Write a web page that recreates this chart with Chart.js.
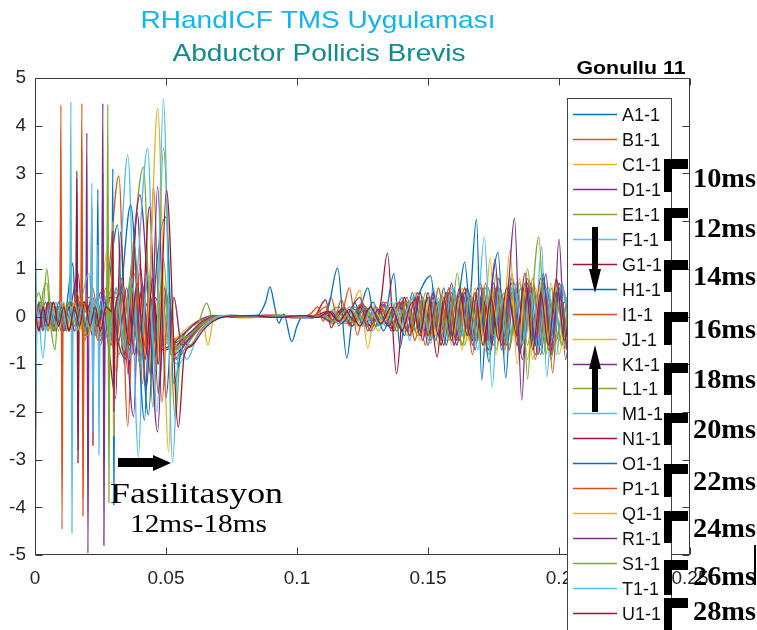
<!DOCTYPE html>
<html><head><meta charset="utf-8">
<script src="https://cdn.jsdelivr.net/npm/chart.js@4.4.1/dist/chart.umd.min.js"></script>
<style>html,body{margin:0;padding:0;background:#fff;}canvas{display:block}</style>
</head><body>
<canvas id="c" width="757" height="630"></canvas>
<script>
// ---------- DATA (time in ms, value) ----------
const labels = ['A1-1','B1-1','C1-1','D1-1','E1-1','F1-1','G1-1','H1-1','I1-1','J1-1','K1-1','L1-1','M1-1','N1-1','O1-1','P1-1','Q1-1','R1-1','S1-1','T1-1','U1-1'];
const xTicks = [0, 0.05, 0.1, 0.15, 0.2, 0.25];
const yTicks = [-5,-4,-3,-2,-1,0,1,2,3,4,5];
const intervalLabels = ['10ms','12ms','14ms','16ms','18ms','20ms','22ms','24ms','26ms','28ms'];

const A1 = [0,1.6, 0.6,0.1, 2,-0.2, 4,0.3, 6,-0.1, 8,0.2, 10,-0.3, 12,0.2, 14.4,1.12, 15.6,0.1, 16.0,2.9, 16.4,-2.8, 16.8,0.2, 19,-0.3, 22,0.4, 25,-0.5, 28,0.6, 31.5,1.92, 34,-1.0, 36.5,0.8, 39,-0.6, 42,0.3, 46,-0.5, 50,-0.4, 54,-0.6, 58,-0.3, 63,-0.1, 68,-0.02, 75,0.03, 85,-0.02, 95,0.02, 105,-0.03, 112,0.05, 118,-0.1, 124,0.15, 127,0.6, 130,-0.2, 134,0.1, 137,0.9, 139.3,-0.66, 142,0.2, 145,-0.3, 148,0.4, 151,-0.5, 154,0.3, 157,-0.6, 160,0.5, 163,-0.4, 166,0.3, 168.5,2.04, 170.5,-1.33, 173,0.6, 175.5,-0.5, 178,0.4, 181,-0.7, 184,0.5, 187,-0.4, 190,0.6, 193,-0.8, 196,0.4, 199,-0.5, 202,0.3, 205,-0.2];
const B1 = [0,0.3, 1,-0.2, 3,0.2, 5,-0.3, 7,0.1, 9.5,0.1, 9.9,4.43, 10.3,-4.46, 10.7,0.3, 13,-0.3, 16,0.4, 19,-0.5, 22,0.6, 25,-0.4, 28,0.8, 32,2.95, 35.4,-2.3, 38,0.9, 41,-0.8, 44,0.4, 48,-0.6, 52,-0.5, 56,-0.4, 60,-0.2, 65,-0.05, 72,0.02, 80,-0.02, 90,0.03, 100,-0.02, 108,0.03, 114,-0.15, 118,0.2, 121,-0.1, 125,0.3, 128,-0.3, 132,0.2, 136,-0.2, 140,0.4, 143,-0.4, 146,0.3, 149,-0.6, 152,0.5, 155,-0.3, 158,0.6, 161,-0.5, 164,0.4, 167,-0.8, 170,0.7, 173,-0.4, 176,0.5, 179,-0.6, 182,0.9, 185,-0.7, 188,0.5, 191,-0.9, 194,0.6, 197,-0.5, 200,0.7, 203,-0.4];
const C1 = [0,-0.2, 1.5,0.2, 3,-0.3, 5,0.2, 7,-0.2, 9,0.3, 11,-0.2, 13,0.2, 15,-0.3, 17.5,0.2, 17.9,3.5, 18.3,-3.8, 18.7,0.1, 21,0.4, 24,-0.3, 27.4,1.35, 31,-1.16, 34,0.6, 37,-0.7, 40,0.5, 43,-0.8, 47,0.3, 51,-0.6, 55,-0.4, 59,-0.2, 64,-0.05, 70,0.02, 80,-0.03, 92,0.02, 104,-0.02, 112,0.05, 116,-0.1, 120,0.2, 123,-0.2, 127,0.15, 131,-0.3, 135,0.2, 139,-0.2, 142,0.3, 145,-0.5, 148,0.4, 151,-0.3, 154,0.6, 157,-0.4, 160,0.3, 163,-0.7, 166,0.5, 169,-0.3, 171,-0.6, 173.7,1.23, 176,-0.8, 179,0.4, 182,-0.5, 185,0.8, 188,-0.9, 191,0.6, 194,-0.4, 197,0.7, 200,-0.8, 203,0.4];
const D1 = [0,-4.6, 0.6,-0.3, 2,0.2, 4,-0.2, 6,0.3, 8,-0.1, 10,0.2, 12,-0.3, 14,0.3, 16.4,0.9, 18,0.1, 19.4,0.1, 19.8,3.85, 20.2,-4.96, 20.6,0.2, 23,-0.4, 26,0.5, 29,-0.6, 33,0.8, 37.6,-2.1, 40,1.1, 43,-0.6, 46,0.4, 50,-0.7, 54,-0.5, 58,-0.3, 62,-0.1, 68,0.02, 78,-0.02, 88,0.03, 98,-0.02, 108,0.02, 113,-0.1, 117,0.15, 121,-0.2, 125,0.25, 129,-0.15, 133,0.3, 137,-0.3, 141,0.4, 144,-0.3, 147,0.5, 150,-0.6, 153,0.4, 156,-0.3, 159,0.7, 162,-0.5, 165,0.4, 168,-0.7, 171,0.6, 174,-0.5, 177,0.8, 180,-0.6, 183,0.5, 186,-0.9, 189,0.7, 192,-0.6, 195,0.9, 197.5,-0.8, 200,1.62, 202.5,-0.9, 205,0.3];
const E1 = [0,0.4, 1.5,-0.3, 3,0.5, 4.5,0.7, 6,-0.2, 7.6,-0.7, 9,0.2, 11,-0.3, 13.3,0.1, 13.7,2.0, 14.1,-1.5, 14.5,0.2, 17,0.4, 20,-0.4, 23,0.3, 26,-0.5, 29,0.6, 32,-0.8, 36,0.7, 41.4,3.13, 45,-1.9, 48,0.6, 51,-0.5, 54,-0.7, 58,-0.4, 62,-0.2, 65.5,0.28, 68,-0.05, 74,0.02, 84,-0.02, 94,0.03, 104,-0.02, 111,0.04, 116,0.2, 119,-0.15, 123,0.1, 127,-0.2, 131,0.15, 135,-0.2, 139,0.3, 143,-0.3, 146,0.5, 149,-0.4, 152,0.3, 155,-0.6, 158,0.5, 161,-0.3, 164,0.6, 167,-0.5, 170,0.4, 173,-0.8, 176,0.9, 179,-0.5, 182,0.4, 185,-0.7, 188,1.0, 191,-0.6, 194,0.5, 197,-0.9, 200,0.6, 203,-0.5];
const F1 = [0,2.3, 0.6,0.1, 2,-0.3, 4,0.2, 6,-0.2, 8,0.3, 10,-0.2, 12,0.2, 13.3,0.1, 13.7,4.5, 14.1,-4.54, 14.5,0.2, 17,0.3, 20.5,0.9, 23,-0.4, 26,0.3, 29,-0.5, 32,0.7, 35.4,3.39, 39.5,-2.94, 42,0.8, 45,-0.6, 48,0.3, 52,-0.8, 56,-0.6, 60,-0.3, 64,-0.1, 70,0.02, 80,-0.02, 90,0.02, 100,-0.03, 108,0.02, 113,-0.1, 117,0.15, 121,-0.2, 125,0.2, 129,-0.3, 133,0.25, 137,-0.2, 140,0.4, 143,-0.5, 146,0.3, 149,-0.4, 152,0.6, 155,-0.5, 158,0.4, 161,-0.6, 164,0.5, 167,-0.4, 170,0.7, 173,-0.6, 176,0.5, 179,-0.8, 182,0.6, 185,-0.5, 188,0.7, 190.5,-0.6, 193.4,1.46, 195.3,-1.26, 198,0.5, 201,-0.6, 204,0.4];
const G1 = [0,-0.3, 1.5,0.2, 3,-0.2, 5,0.3, 7,-0.3, 9,0.2, 11,-0.2, 13,0.3, 15.6,0.1, 16.0,3.05, 16.4,-3.07, 16.8,0.1, 19,0.3, 22,-0.4, 25,0.5, 28,-0.6, 30.8,-1.71, 32.6,1.77, 35.5,-1.2, 39,2.17, 42.5,-1.5, 45,0.5, 48,-0.7, 52,-0.6, 56,-0.5, 59,-0.64, 63,-0.3, 67,-0.1, 72,0.0, 80,0.02, 90,-0.02, 100,0.02, 106,-0.03, 111,0.35, 113,-0.24, 116,0.1, 120,-0.15, 124,0.2, 128,-0.2, 132,0.15, 136,-0.25, 140,0.3, 143,-0.4, 146,0.5, 149,-0.3, 152,0.4, 155,-0.6, 158,0.5, 161,-0.4, 164,0.6, 167,-0.5, 170,0.4, 173,-0.7, 176,0.6, 179,-0.4, 182,0.7, 185,-0.8, 188,0.5, 191,-0.6, 194,0.8, 197,-0.7, 200,0.5, 203,-0.6];
const H1 = [0,-0.2, 1.5,0.3, 3,-0.2, 5,0.2, 7,-0.3, 9,0.3, 11,-0.2, 13,0.2, 15,-0.2, 17,0.3, 19,-0.3, 21,0.2, 23.6,0.1, 24.0,2.67, 24.4,-1.8, 24.8,0.2, 27,0.4, 30,-0.5, 33,0.6, 36.5,2.34, 41.8,-2.17, 44,0.7, 47,-0.5, 50,0.3, 53,-0.9, 57,-0.6, 61,-0.3, 65,-0.1, 70,0.0, 78,0.02, 85,0.03, 88,0.3, 89.7,0.62, 91.5,0.2, 93,-0.14, 95,0.05, 98,-0.53, 100,-0.2, 102,0.0, 106,0.02, 110,-0.03, 114,0.1, 118,-0.1, 122,0.15, 126,-0.2, 130,0.2, 134,-0.15, 138,0.3, 142,-0.3, 146,0.4, 151,0.85, 154,-0.4, 157,0.5, 160,-0.6, 163,0.4, 166,-0.5, 169,0.6, 172,-0.4, 174,0.5, 176.7,1.35, 179.7,-1.29, 182,0.6, 185,-0.5, 188,0.7, 191,-0.8, 194,0.6, 197,-0.4, 200,0.7, 203,-0.6];
const I1 = [0,0.2, 1.5,-0.3, 3,0.3, 5,-0.2, 7,0.2, 9.5,0.0, 9.9,2.5, 10.3,-2.0, 10.7,0.2, 13,-0.3, 16,0.5, 19,-0.4, 22,0.3, 25,-0.6, 28,0.4, 31,-0.5, 34,0.6, 37,-0.8, 40,0.9, 43,-0.7, 45.2,2.74, 48.5,-1.8, 51,0.5, 54,-0.9, 58,-0.6, 62,-0.3, 66,-0.1, 72,0.02, 82,-0.02, 92,0.03, 100,-0.02, 105,0.05, 108,0.2, 110,-0.1, 113,0.4, 116,-0.2, 120,0.6, 123,-0.39, 126,0.2, 130,-0.2, 134,0.3, 138,-0.3, 142,0.4, 145,-0.5, 148,0.3, 151,-0.4, 154,0.6, 157,-0.3, 160,0.5, 163,-0.6, 166,0.4, 169,-0.5, 172,0.7, 175,-0.6, 178,0.5, 181,-0.7, 184,0.6, 187,-0.4, 190,0.8, 193,-0.6, 195,0.5, 197.6,-1.18, 200,0.6, 203,-0.3];
const J1 = [0,0.1, 1.5,-0.2, 3,0.3, 5,-0.3, 7,0.2, 9,-0.1, 11,0.3, 13,-0.2, 15,0.2, 17,-0.3, 19,0.2, 21,-0.2, 23,0.3, 25,-0.2, 27.4,0.1, 27.8,2.5, 28.2,-2.6, 28.6,0.1, 31,0.5, 34,-0.7, 37,0.6, 40,-0.9, 43,0.8, 46,-1.2, 49,0.7, 52,-0.8, 56,-0.5, 60,-0.3, 64,-0.1, 66,-0.6, 68,-0.1, 72,0.02, 82,-0.02, 92,0.02, 102,-0.02, 110,0.03, 115,0.1, 118,-0.15, 121,0.2, 124,0.55, 127,-0.66, 130,0.2, 134,-0.2, 138,0.3, 142,-0.4, 145,0.5, 148,-0.3, 151,0.4, 154,-0.6, 157,0.5, 160,-0.4, 163,0.6, 166,-0.5, 169,0.3, 172,-0.7, 175,0.6, 178,-0.5, 181,0.8, 184,-0.6, 187,0.5, 190,-0.9, 193,0.7, 196,-0.5, 199,0.6, 202,-0.7, 205,0.3];
const K1 = [0,-0.3, 1.5,0.2, 3,-0.2, 5,0.3, 7,-0.2, 9,0.2, 11,-0.3, 13,0.2, 15,-0.2, 17,0.2, 19,-0.3, 21,0.2, 23,-0.2, 25.5,0.1, 25.9,4.47, 26.3,-4.8, 26.7,0.1, 29,0.4, 32,-0.6, 35,-0.9, 37,0.9, 40,2.55, 43.5,0.2, 46.8,-2.42, 49.5,0.6, 52,-0.7, 56,-0.5, 60,-0.3, 64,-0.1, 70,0.02, 80,-0.02, 90,0.02, 100,-0.02, 108,0.03, 113,-0.1, 117,0.15, 121,-0.2, 125,0.15, 129,-0.1, 133,0.25, 136,-0.3, 140,0.3, 143,-0.4, 146,0.4, 149,-0.3, 152,0.5, 155,-0.5, 158,0.3, 161,-0.6, 164,0.5, 167,-0.4, 170,0.6, 172.5,-0.5, 175.6,1.2, 178,-0.7, 181,0.5, 184,-0.6, 187,0.7, 190,-0.5, 193,0.8, 196,-0.7, 199,0.5, 202,-0.4, 205,0.3];
const L1 = [0,0.3, 1.5,-0.2, 3,0.2, 5,-0.3, 7,0.3, 9,-0.2, 11,0.2, 13,-0.3, 15,0.2, 17,-0.2, 19,0.3, 21,-0.2, 23,0.2, 25,-0.3, 27.4,0.1, 27.8,4.45, 28.2,-3.9, 28.6,0.1, 31,0.5, 34,-0.6, 37,0.7, 40,-0.9, 43,0.9, 46,-1.1, 49,3.53, 53.6,-2.13, 56,-0.4, 59,-0.6, 63,-0.3, 67,-0.1, 72,0.02, 82,-0.02, 92,0.03, 102,-0.02, 110,0.02, 114,-0.1, 118,0.15, 122,-0.15, 126,0.2, 130,-0.2, 134,0.15, 138,-0.3, 142,0.3, 146,-0.4, 149,0.5, 152,-0.3, 155,0.4, 158,-0.5, 161.2,0.91, 164,-0.6, 167,0.4, 170,-0.5, 173,0.6, 176,-0.7, 179,0.5, 182,-0.4, 185,0.7, 188,-0.6, 191,0.5, 194,-0.8, 197,0.6, 200,-0.5, 203,0.4];
const M1 = [0,-0.3, 1,0.2, 3,-0.87, 5,0.2, 7,-0.3, 9,0.2, 11,-0.2, 13,0.3, 15,-0.2, 17,0.2, 19,-0.3, 21,0.2, 23.6,0.1, 24.0,1.5, 24.4,-2.9, 24.8,0.1, 27,0.4, 30,-0.5, 33,0.8, 36,-0.9, 39,0.9, 43,3.53, 46.5,-2.0, 49,0.5, 52,-0.8, 55,-1.0, 59,-0.5, 63,-0.2, 67,-0.05, 72,0.02, 82,-0.02, 92,0.02, 102,-0.02, 110,0.03, 114,0.1, 118,-0.15, 122,0.2, 126,-0.2, 130,0.15, 134,-0.2, 138,0.2, 142,-0.3, 146,0.3, 151,-0.56, 154,0.4, 157,-0.5, 160,0.6, 163,-0.4, 166,0.5, 169,-0.7, 172,0.6, 175,-0.5, 178,0.4, 181,-0.6, 184,0.7, 187,-0.5, 190,0.5, 193,-0.7, 196,0.6, 199,-0.8, 202,0.5, 205,-0.3];
const N1 = [0,0.2, 1.5,-0.3, 3,0.2, 5,-0.2, 7,0.3, 9,-0.2, 11,0.2, 13,-0.3, 15,0.2, 17,-0.2, 19,0.2, 21.3,0.1, 21.7,2.3, 22.1,-2.7, 22.5,0.1, 25,0.4, 28,-0.5, 31,0.6, 34,-0.8, 37,0.7, 40,-1.0, 43.7,2.3, 47,-1.6, 50,0.5, 53,-0.8, 57,-0.6, 61,-0.3, 65,-0.1, 70,0.02, 80,-0.02, 90,0.02, 100,-0.02, 108,0.03, 111,0.1, 114,-0.1, 118,0.15, 122,-0.1, 126,0.2, 130,-0.2, 132,0.3, 134.5,1.33, 138,-1.2, 141,0.4, 144,-0.3, 147,0.5, 150,-0.4, 153,0.3, 156,-0.6, 159,0.5, 162,-0.4, 165,0.6, 168,-0.5, 171,0.4, 174,-0.7, 177,0.6, 180,-0.5, 183,0.7, 186,-0.6, 189,0.5, 192,-0.8, 195,0.6, 198,-0.5, 201,0.7, 204,-0.4];
const O1 = [0,-2.3, 0.6,-0.2, 2,0.3, 4,-0.2, 6,0.2, 8,-0.3, 10,0.2, 12,-0.2, 14,0.3, 16,-0.2, 18,0.2, 20,-0.3, 22,0.2, 24,-0.2, 26,0.3, 29.3,0.1, 29.7,3.1, 30.1,-3.95, 30.5,0.1, 33,0.5, 36,-0.7, 39,0.6, 43.3,-2.06, 46,0.8, 50,2.09, 53,-1.4, 56,-0.7, 60,-0.4, 64,-0.15, 70,0.0, 80,0.02, 90,-0.02, 100,0.02, 108,-0.02, 112,0.2, 115.5,1.02, 119,-0.87, 122,0.3, 125,-0.2, 129,0.3, 133,-0.3, 137,0.2, 141,-0.4, 144,0.5, 147,-0.3, 150,0.4, 153,-0.5, 156,0.6, 159,-0.4, 162,0.5, 164,1.14, 167,-0.6, 170,0.4, 173.3,-0.95, 176,0.5, 179,-0.6, 182,0.8, 185,-0.7, 188,0.5, 191,-0.6, 194,0.9, 197,-0.8, 200,0.6, 203,-0.5];
const P1 = [0,-0.2, 1.5,0.3, 3,-0.2, 5,0.2, 7,-0.3, 9,0.2, 11,-0.2, 13,0.3, 15,-0.2, 17.5,0.1, 17.9,4.47, 18.3,-4.18, 18.7,0.1, 21,0.4, 24,-0.5, 27,0.6, 30,-0.7, 33,0.8, 35,-0.9, 38,1.5, 41,-1.4, 44,0.9, 47,-1.0, 50,0.4, 53,-0.7, 57,-0.5, 61,-0.3, 65,-0.1, 70,0.02, 80,-0.02, 90,0.02, 100,-0.03, 107,0.03, 111,0.2, 114,-0.1, 117,0.35, 120,-0.2, 124,0.25, 128,-0.3, 132,0.2, 136,-0.2, 140,0.3, 143,-0.4, 146,0.5, 149,-0.4, 152,0.3, 155,-0.5, 158,0.6, 161,-0.5, 164,0.4, 167,-0.6, 170,0.7, 173,-0.5, 176,0.6, 179,-0.7, 182,0.5, 185,-0.6, 188,0.8, 191,-0.5, 194,0.6, 197,-0.8, 200,0.5, 203,-0.6];
const Q1 = [0,0.2, 1.5,-0.2, 3,0.3, 5,-0.2, 7,0.2, 9,-0.3, 11,0.2, 13,-0.2, 15,0.3, 17,-0.2, 19,0.2, 21,-0.3, 23,0.2, 25,-0.2, 27,0.2, 29.3,0.1, 29.7,2.0, 30.1,-2.5, 30.5,0.1, 33,0.5, 36,-0.6, 39,0.7, 42,-0.9, 44,1.0, 46.8,4.37, 51,-2.84, 53,0.4, 56,-0.6, 60,-0.4, 64,-0.15, 70,0.0, 80,0.02, 90,-0.02, 100,0.02, 108,-0.02, 113,0.1, 117,-0.1, 121,0.15, 125,-0.2, 129,0.2, 133,-0.15, 137,0.25, 141,-0.3, 144,0.4, 147,-0.5, 150,0.3, 153,-0.4, 156,0.5, 159,-0.6, 162,0.4, 165,-0.5, 168,0.6, 171,-0.4, 174,0.5, 178,-0.6, 181.3,1.39, 184,-1.0, 187,0.5, 190,-0.6, 193,0.7, 196,-0.5, 199,0.8, 202,-0.6, 205,0.3];
const R1 = [0,-0.2, 1.5,0.2, 3,-0.3, 5,0.3, 7,-0.2, 9,0.2, 11,-0.2, 13,0.2, 15,-0.3, 17,0.2, 19,-0.2, 21,0.3, 23,-0.2, 25.5,0.1, 25.9,3.0, 26.3,-3.0, 26.7,0.1, 29,0.4, 32,-0.5, 35,0.6, 38,-0.8, 41,0.7, 44,-1.2, 46.8,2.72, 50,-1.7, 53,0.4, 56,-0.6, 60,-0.4, 64,-0.15, 70,0.0, 80,0.02, 90,-0.02, 100,0.02, 108,-0.02, 113,0.1, 117,-0.15, 121,0.2, 124,0.4, 127,-0.3, 131,0.15, 135,-0.2, 139,0.3, 142,-0.3, 145,0.4, 148,-0.5, 151,0.3, 154,-0.4, 157,0.5, 160,-0.6, 163,0.5, 166,-0.4, 169,0.6, 172,-0.5, 175,0.7, 178,-0.6, 180.5,0.5, 183,2.06, 185.8,-1.75, 188,0.6, 191,-0.5, 194,0.7, 197,-0.6, 200,0.5, 203,-0.7];
const S1 = [0,0.3, 1.5,0.5, 3,0.2, 4.5,1.0, 6,0.1, 7.5,-0.3, 9,0.2, 11,-0.2, 13,0.3, 15,-0.2, 17,0.2, 19,-0.3, 21,0.2, 23,-0.2, 25,0.2, 27.4,0.1, 27.8,1.5, 28.2,-1.2, 28.6,0.1, 31,0.4, 34,-0.5, 37,0.6, 40,-0.7, 43,0.8, 46,-0.9, 49,1.2, 52,-0.8, 55,-0.5, 59,-0.4, 63,-0.2, 67,-0.05, 72,0.02, 82,-0.02, 92,0.02, 102,-0.02, 110,0.03, 114,-0.1, 118,0.1, 122,-0.15, 126,0.2, 130,-0.2, 134,0.15, 138,-0.2, 142,0.3, 145,-0.3, 148,0.4, 151,-0.5, 154,0.3, 157,-0.4, 160,0.5, 163,-0.6, 166,0.4, 169,-0.5, 172,0.6, 175,-0.4, 178,0.5, 181,-0.6, 184,0.4, 186,0.6, 188,-1.31, 190,0.5, 192.3,1.67, 195,-0.8, 198,0.5, 201,-0.6, 204,0.4];
const T1 = [0,-3.4, 0.6,-0.3, 2,0.2, 4,-0.3, 6,0.2, 8,-0.2, 10,0.3, 12,-0.2, 14,0.2, 16,-0.3, 18,0.2, 20,-0.2, 21.3,0.1, 21.7,2.8, 22.1,-2.4, 22.5,0.1, 25,0.4, 28,-0.5, 31,0.6, 34,-0.7, 37,0.8, 40,-1.0, 43,0.9, 46,-1.1, 49,4.56, 52.5,-3.05, 55,-0.6, 58,-0.9, 62,-0.4, 66,-0.15, 70,0.0, 80,0.02, 90,-0.02, 100,0.02, 108,-0.02, 112,0.1, 116,-0.15, 120,0.2, 124,-0.2, 128,0.15, 132,-0.2, 136,0.3, 140,-0.2, 143,0.3, 147.5,0.45, 150,-0.3, 153,0.4, 156,-0.5, 159,0.6, 162,-0.4, 165,0.5, 168,-0.6, 171.5,1.67, 174.5,-1.48, 177,0.6, 180,-0.5, 183,0.7, 186,-0.6, 189,0.5, 192,-0.7, 195,0.6, 198,-0.5, 201,0.7, 204,-0.4];
const U1 = [0,0.1, 1.5,-0.3, 3,0.2, 5,-0.2, 7,0.3, 9,-0.2, 11,0.2, 13,-0.3, 15,0.2, 17,-0.2, 19,0.3, 21,-0.2, 23,0.2, 25,-0.3, 27,0.2, 29.3,0.1, 29.7,1.8, 30.1,-2.0, 30.5,0.1, 33,0.5, 36,-0.6, 39,0.7, 42,-0.9, 45,0.8, 47,-1.0, 50.2,2.65, 54.7,-2.32, 57,-0.8, 60,-0.6, 64,-0.3, 68,-0.1, 73,0.0, 82,0.02, 92,-0.02, 102,0.02, 108,-0.02, 112,0.1, 116,-0.1, 120,0.15, 124,-0.2, 128,0.2, 132,-0.15, 136,0.2, 140,-0.3, 144,0.3, 147,-0.4, 150,0.5, 153.5,-0.85, 156,0.4, 159,-0.5, 162,0.6, 165,-0.4, 168,0.5, 171,-0.6, 174,0.4, 177,-0.5, 180,0.6, 184,-0.4, 187,0.91, 190,-0.7, 193,0.5, 196,-0.6, 199,0.8, 202,-0.5, 205,0.3];

const series = [A1,B1,C1,D1,E1,F1,G1,H1,I1,J1,K1,L1,M1,N1,O1,P1,Q1,R1,S1,T1,U1];

// ---------- STYLE ----------
const palette = ['#0072BD','#D95319','#EDB120','#7E2F8E','#77AC30','#4DBEEE','#A2142F'];
const SANS = '"Liberation Sans", Arial, sans-serif';
const SERIF = '"Liberation Serif", "Times New Roman", serif';

function toPoints(arr){ const p=[]; for(let i=0;i<arr.length;i+=2) p.push({x:arr[i]/1000, y:arr[i+1]}); return p; }

const datasets = series.map((s,i)=>({
  label: labels[i], data: toPoints(s), borderColor: palette[i%7], backgroundColor: palette[i%7],
  borderWidth: 1.3, pointRadius: 0, fill: false, cubicInterpolationMode: 'monotone', order: series.length - i
}));

function sText(ctx, txt, x, y, font, color, width, align){
  ctx.save(); ctx.font = font; ctx.fillStyle = color; ctx.textBaseline = 'alphabetic'; ctx.textAlign='left';
  const w = ctx.measureText(txt).width; const s = width ? width / w : 1; const W = w*s;
  const x0 = align === 'center' ? x - W/2 : x;
  ctx.translate(x0, y); ctx.scale(s, 1); ctx.fillText(txt, 0, 0); ctx.restore();
}

const decor = {
  id: 'decor',
  beforeDraw(chart){ const c=chart.ctx; c.save(); c.fillStyle='#fff'; c.fillRect(0,0,chart.width,chart.height); c.restore(); },
  afterDatasetsDraw(chart){
    const ctx = chart.ctx, xs = chart.scales.x, ys = chart.scales.y, a = chart.chartArea;
    const L = Math.round(a.left)+0.5, R = Math.round(a.right)-0.5, T = Math.round(a.top)+0.5, B = Math.round(a.bottom)-0.5;
    ctx.save();
    ctx.strokeStyle = '#3a3a3a'; ctx.lineWidth = 1;
    ctx.beginPath();
    ctx.moveTo(L,T); ctx.lineTo(R,T); ctx.lineTo(R,B); ctx.lineTo(L,B); ctx.closePath();
    xTicks.forEach(v=>{ const px = Math.round(xs.getPixelForValue(v))+0.5; ctx.moveTo(px,B); ctx.lineTo(px,B-7); ctx.moveTo(px,T); ctx.lineTo(px,T+7); });
    yTicks.forEach(v=>{ const py = Math.round(ys.getPixelForValue(v))+0.5; ctx.moveTo(L,py); ctx.lineTo(L+7,py); ctx.moveTo(R,py); ctx.lineTo(R-7,py); });
    ctx.stroke();

    // titles
    sText(ctx, 'RHandICF TMS Uygulaması', 318, 28, '24px '+SANS, '#12B4EE', 355, 'center');
    sText(ctx, 'Abductor Pollicis Brevis', 319, 61, '24px '+SANS, '#138A8C', 293, 'center');
    sText(ctx, 'Gonullu 11', 631, 74, 'bold 18px '+SANS, '#000', 109, 'center');

    // legend
    ctx.fillStyle = '#fff'; ctx.fillRect(567, 98, 104, 560);
    ctx.strokeStyle = '#444'; ctx.lineWidth = 1; ctx.strokeRect(567.5, 98.5, 104, 560);
    labels.forEach((lb,i)=>{
      const y = Math.round(114 + i*24.95)+0.5;
      ctx.strokeStyle = palette[i%7]; ctx.lineWidth = 1.3;
      ctx.beginPath(); ctx.moveTo(573,y); ctx.lineTo(617,y); ctx.stroke();
      ctx.font = '18px '+SANS; ctx.fillStyle = '#111'; ctx.textBaseline = 'middle'; ctx.textAlign='left';
      ctx.fillText(lb, 622, y+1.5);
    });

    ctx.fillStyle = '#000';
    // down arrow in legend
    ctx.fillRect(592, 227, 6, 44);
    ctx.beginPath(); ctx.moveTo(589,269); ctx.lineTo(601,269); ctx.lineTo(595,293); ctx.closePath(); ctx.fill();
    // up arrow
    ctx.fillRect(592, 366, 6, 46);
    ctx.beginPath(); ctx.moveTo(589,369); ctx.lineTo(601,369); ctx.lineTo(595,345); ctx.closePath(); ctx.fill();

    // brackets and interval labels
    const tops = [159,208,260,312,363,413,464,511,560,598];
    const lens = [33,33,32,33,32,32,33,32,35,40];
    const bases = [187,237,285,338,388,438,490,537,585,620];
    intervalLabels.forEach((t,i)=>{
      ctx.fillStyle = '#000';
      ctx.fillRect(664, tops[i], 8, lens[i]);
      ctx.fillRect(664, tops[i], 24, 10);
      sText(ctx, t, 693, bases[i], 'bold 27px '+SERIF, '#000', 63, 'left');
    });
    ctx.fillRect(754, 545, 2, 40);

    // facilitation arrow & text
    ctx.fillRect(118, 458, 36, 9);
    ctx.beginPath(); ctx.moveTo(153,455); ctx.lineTo(171,463); ctx.lineTo(153,471); ctx.closePath(); ctx.fill();
    sText(ctx, 'Fasilitasyon', 110, 503, '30px '+SERIF, '#000', 173, 'left');
    sText(ctx, '12ms-18ms', 130, 532, '26px '+SERIF, '#000', 137, 'left');
    ctx.restore();
  }
};

new Chart(document.getElementById('c'), {
  type: 'line',
  data: { datasets },
  options: {
    responsive: false, animation: false, parsing: false, normalized: true,
    layout: { padding: { left: 0, right: 67, top: 78, bottom: 30 } },
    plugins: { legend: { display: false }, tooltip: { enabled: false }, title: { display: false } },
    scales: {
      x: { type: 'linear', min: 0, max: 0.25,
           afterBuildTicks: s => { s.ticks = xTicks.map(v=>({value:v})); },
           afterFit: s => { s.height = 45; },
           grid: { display: false, drawTicks: false }, border: { display: false },
           ticks: { color: '#262626', font: { family: SANS, size: 19 }, padding: 12, maxRotation: 0, autoSkip: false,
                    callback: v => String(+(+v).toFixed(2)) } },
      y: { type: 'linear', min: -5, max: 5,
           afterBuildTicks: s => { s.ticks = yTicks.map(v=>({value:v})); },
           afterFit: s => { s.width = 35; },
           grid: { display: false, drawTicks: false }, border: { display: false },
           ticks: { color: '#262626', font: { family: SANS, size: 19 }, padding: 9, autoSkip: false,
                    callback: v => String(v) } }
    }
  },
  plugins: [decor]
});
</script>
